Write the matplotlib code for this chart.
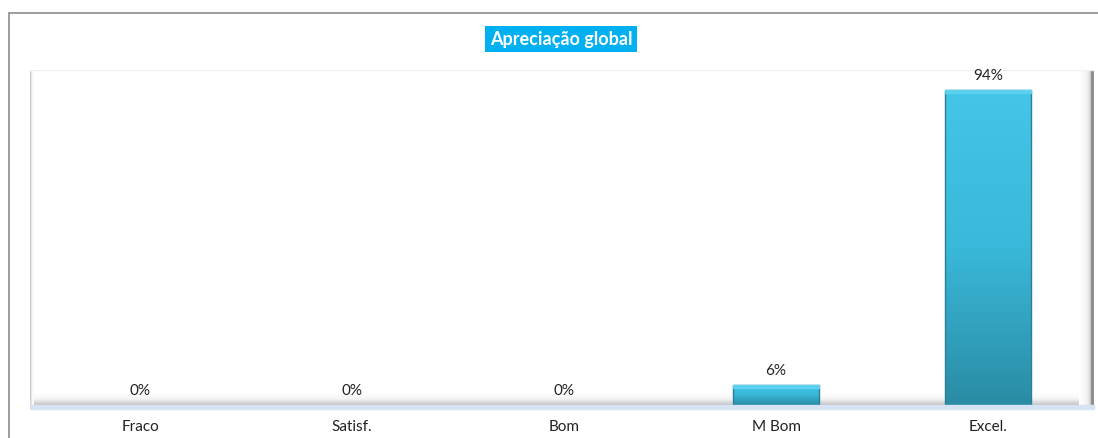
import matplotlib.pyplot as plt
import numpy as np
from matplotlib.patches import Rectangle
from matplotlib.colors import LinearSegmentedColormap

plt.rcParams['font.family'] = ['Lato', 'DejaVu Sans']

categorias = ["Fraco", "Satisf.", "Bom", "M Bom", "Excel."]
valores = [0.00, 0.00, 0.00, 0.06, 0.94]
rotulos = ["0%", "0%", "0%", "6%", "94%"]

fig = plt.figure(figsize=(10.98, 4.39), dpi=100)

# moldura exterior do grafico
fig.patches.append(Rectangle((9/1098, -0.05), 1.2, 1 - 14/439 + 0.05,
                             transform=fig.transFigure, fill=False,
                             edgecolor="#8c8c8c", linewidth=1.2))

ax = fig.add_axes([30/1098, 1 - 406/439, 1064/1098, (406 - 71)/439])
ax.set_xlim(-0.52, 4.5)
ax.set_ylim(0, 1)

# chao e paredes (efeito 3D)
ax.axhline(1.0, color="#f0f0f0", lw=1)
gris = LinearSegmentedColormap.from_list("gris", ["#c4c4c4", "#f4f4f4", "#ffffff"])
ax.imshow(np.linspace(0, 1, 64).reshape(-1, 1), cmap=gris, aspect="auto",
          origin="lower", extent=[-0.52, 4.5, 0, 0.035], zorder=1)
ax.imshow(np.linspace(0, 1, 64).reshape(1, -1), cmap=gris, aspect="auto",
          extent=[-0.52, -0.505, 0, 1.0], zorder=1)
ax.imshow(np.linspace(1, 0, 64).reshape(1, -1), cmap=gris, aspect="auto",
          extent=[4.43, 4.5, 0, 1.0], zorder=1)
ax.add_patch(Rectangle((4.485, 0), 0.015, 1.0, color="#8f8f8f", zorder=1))

x = np.arange(len(categorias))
barras = ax.bar(x, valores, width=0.405, color="none",
                edgecolor=["none" if v == 0 else "#2b7f96" for v in valores],
                linewidth=1, zorder=3)

cmap = LinearSegmentedColormap.from_list("azul", ["#2a8ca5", "#3ab8d9", "#43c6e8"])
grad = np.linspace(0, 1, 256).reshape(-1, 1)
for b in barras:
    h = b.get_height()
    if h <= 0:
        continue
    x0 = b.get_x()
    w = b.get_width()
    im = ax.imshow(grad, cmap=cmap, aspect="auto", origin="lower",
                   extent=[x0, x0 + w, 0, h], zorder=2)
    im.set_clip_path(b)
    ax.add_patch(Rectangle((x0, h - 0.01), w, 0.01, color="#5cd0ee", zorder=3))

for xi, v, r in zip(x, valores, rotulos):
    ax.annotate(r, (xi, v), xytext=(0, 6), textcoords="offset points",
                ha="center", va="bottom", fontsize=11, color="#222222")

ax.set_xticks(x)
ax.set_xticklabels(categorias, fontsize=11, color="#222222")
ax.tick_params(axis="x", length=0, pad=10)
ax.set_yticks([])
for s in ax.spines.values():
    s.set_visible(False)

# sombra azul sob o chao
fig.patches.append(Rectangle((30/1098, 1 - 410/439), 1064/1098, 4/439,
                             transform=fig.transFigure, color="#d5e3f4", zorder=0))

fig.text(561/1098, 1 - 40/439, "Apreciação global", ha="center", va="center",
         fontsize=13, fontweight="bold", color="white",
         bbox=dict(boxstyle="square,pad=0.25", fc="#00b0f0", ec="none"))

plt.savefig("out.png", dpi=100)
